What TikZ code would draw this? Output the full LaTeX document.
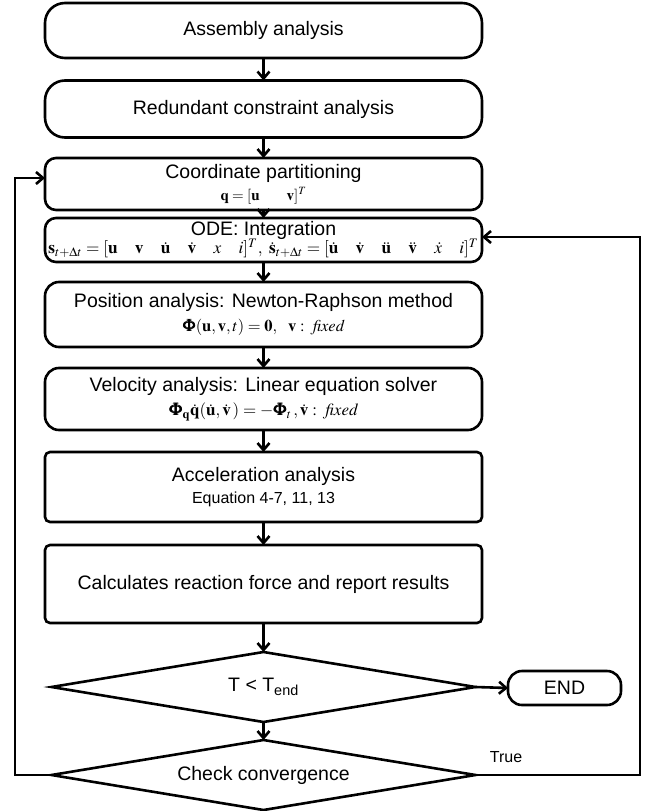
\documentclass[tikz,border=0pt]{standalone}
\usepackage{amsmath}
\usepackage{mathptmx}
\usepackage{bm}
\usepackage{graphicx}
\usepackage[no-math]{fontspec}
\setmainfont{Liberation Sans}
\usetikzlibrary{arrows.meta,shapes.geometric}
\newcommand{\gp}{\hspace{1.0em}}
\begin{document}
\begin{tikzpicture}[x=1pt,y=-1pt,
  every node/.style={inner sep=0pt, outer sep=0pt},
  basebox/.style={draw, line width=2.6pt, minimum width=437pt, align=center,
    font=\fontsize{19.5}{21}\selectfont},
  stadium/.style={basebox, rounded corners=20pt},
  midbox/.style={basebox, rounded corners=11pt},
  softbox/.style={basebox, rounded corners=14pt},
  sharpbox/.style={basebox, rounded corners=5pt},
  decision/.style={draw, diamond, aspect=6, line width=2.6pt, minimum width=424pt,
    minimum height=70pt, font=\fontsize{19.5}{21}\selectfont},
  arr/.style={line width=2.6pt, -{Straight Barb[length=7pt,width=12pt]}}
]
\useasboundingbox (0,0) rectangle (648,811);

\node[stadium, minimum height=55pt] (asm) at (263.5,30.5) {Assembly analysis};
\node[stadium, minimum height=57pt] (red) at (263.5,109) {Redundant constraint analysis};
\node[midbox, minimum height=52pt] (coord) at (263.5,184)
  {Coordinate partitioning\\[1pt]
   {\fontsize{15}{15}\selectfont $\mathbf{q}=[\mathbf{u}\hspace{1.8em}\mathbf{v}]^{T}$}};
\node[midbox, minimum height=44pt] (ode) at (263.5,240)
  {ODE: Integration\\[-3pt]
   \resizebox{430pt}{!}{\fontsize{12}{12}\selectfont$\mathbf{s}_{t+\Delta t}=[\mathbf{u}\gp\mathbf{v}\gp\dot{\mathbf{u}}\gp\dot{\mathbf{v}}\gp x\gp i]^{T},\ \dot{\mathbf{s}}_{t+\Delta t}=[\dot{\mathbf{u}}\gp\dot{\mathbf{v}}\gp\ddot{\mathbf{u}}\gp\ddot{\mathbf{v}}\gp\dot{x}\gp i]^{T}$}};
\node[softbox, minimum height=65pt] (pos) at (263.5,314.5)
  {Position analysis: Newton-Raphson method\\[3pt]
   {\fontsize{16.5}{16.5}\selectfont $\bm{\Phi}(\mathbf{u},\mathbf{v},t)=\mathbf{0},\ \ \mathbf{v}:\ \mathit{fixed}$}};
\node[softbox, minimum height=62pt] (vel) at (263.5,399)
  {Velocity analysis: Linear equation solver\\[3pt]
   {\fontsize{17}{17}\selectfont $\bm{\Phi}_{\mathbf{q}}\dot{\mathbf{q}}(\dot{\mathbf{u}},\dot{\mathbf{v}}\,)=-\bm{\Phi}_{t}\,,\dot{\mathbf{v}}:\ \mathit{fixed}$}};
\node[sharpbox, minimum height=70pt] (acc) at (263.5,487)
  {Acceleration analysis\\[1pt]
   {\fontsize{16}{16}\selectfont Equation 4-7, 11, 13}};
\node[sharpbox, minimum height=78pt] (calc) at (263.5,584)
  {Calculates reaction force and report results};

\node[decision] (d1) at (263.5,687) {T < T\textsubscript{end}};
\node[decision] (d2) at (263.5,775) {Check convergence};
\node[draw, line width=2.6pt, rounded corners=14pt, minimum width=113pt, minimum height=34pt,
  font=\fontsize{19.5}{21}\selectfont] (end) at (564.5,688) {END};
\node[font=\fontsize{16}{18}\selectfont] (true) at (506,757) {True};

\coordinate (lft) at (15,0);
\coordinate (rgt) at (640,0);

\draw[arr] (asm) -- (red);
\draw[arr] (red) -- (coord);
\draw[arr] (coord) -- (ode);
\draw[arr] (ode) -- (pos);
\draw[arr] (pos) -- (vel);
\draw[arr] (vel) -- (acc);
\draw[arr] (acc) -- (calc);
\draw[arr] (calc) -- (d1);
\draw[arr] (d1) -- (d2);
\draw[arr] (d1.east) -- (end.west);
\draw[arr] (d2.west) -- (d2.west -| lft) |- ([yshift=6pt]coord.west);
\draw[arr] (d2.east) -- (d2.east -| rgt) |- ([yshift=3pt]ode.east);
\end{tikzpicture}
\end{document}
